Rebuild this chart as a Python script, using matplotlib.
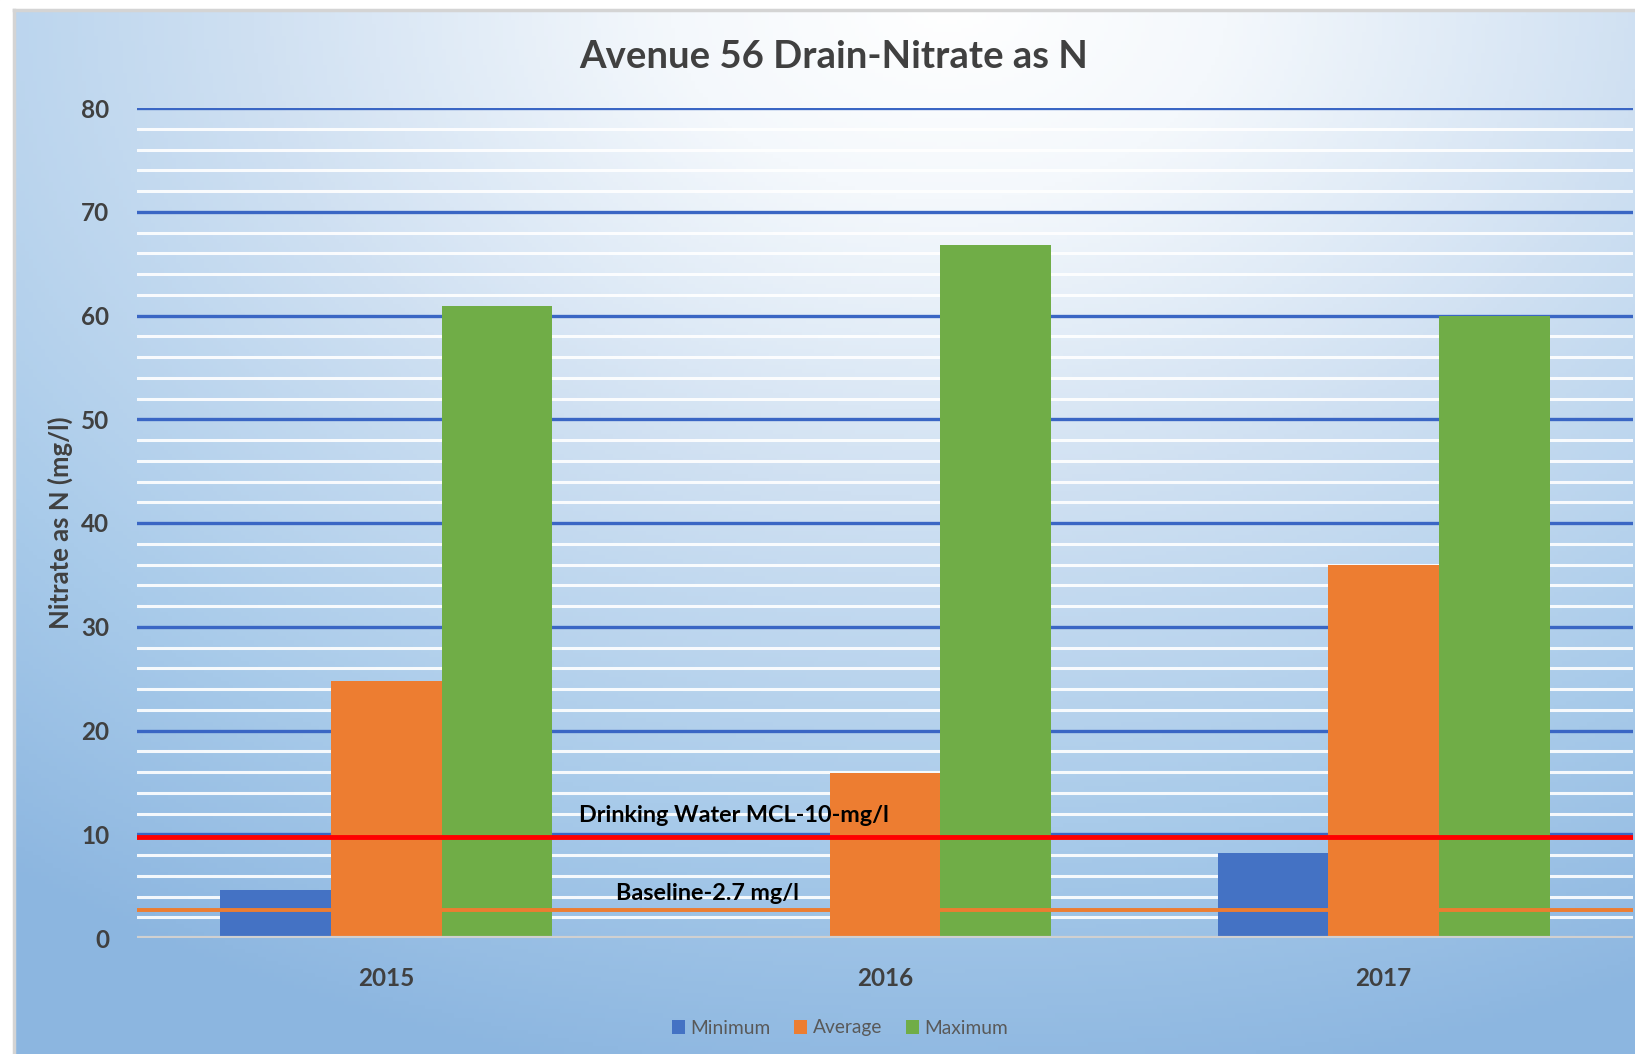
import numpy as np
import matplotlib
matplotlib.use("Agg")
import matplotlib.pyplot as plt
from matplotlib.colors import LinearSegmentedColormap
from matplotlib.patches import Rectangle

plt.rcParams['font.family'] = ['Lato', 'DejaVu Sans']

# ---------- data ----------
years = ['2015', '2016', '2017']
minimum = [4.6, 0.2, 8.2]
average = [24.8, 15.9, 36.0]
maximum = [60.9, 66.8, 60.0]
series_names = ['Minimum', 'Average', 'Maximum']
mcl_level = 9.7        # drinking water MCL line as drawn
baseline_level = 2.7   # baseline line
y_ticks = [0, 10, 20, 30, 40, 50, 60, 70, 80]

colors = ['#4472C4', '#ED7D31', '#70AD47']
W, H = 1635, 1054

fig = plt.figure(figsize=(W / 100, H / 100), dpi=100)

# background: white glow at the top, light blue towards the edges
bg = fig.add_axes([0, 0, 1, 1], zorder=-10)
bg.axis('off')
gx, gy = np.meshgrid(np.linspace(0, 1, 400), np.linspace(0, 1, 260))
d = np.sqrt(((gx - 0.58) / 0.95) ** 2 + ((gy - 0.0) / 1.05) ** 2)
cmap = LinearSegmentedColormap.from_list(
    'bg', [(0, '#ffffff'), (0.18, '#f4f8fc'), (0.45, '#cfe0f2'),
           (0.75, '#a9cbea'), (1.0, '#8cb6e0')])
bg.imshow(np.clip(d, 0, 1), cmap=cmap, vmin=0, vmax=1, aspect='auto',
          extent=[0, 1, 0, 1], origin='upper')
bg.set_xlim(0, 1)
bg.set_ylim(0, 1)
# white margin and grey frame at top / left
bg.add_patch(Rectangle((0, 0), 14 / W, 1, color='white', zorder=5))
bg.add_patch(Rectangle((0, 1 - 10 / H), 1, 10 / H, color='white', zorder=5))
bg.plot([14 / W, 14 / W], [0, 1 - 10 / H], color='#d4d4d4', lw=2.5, zorder=6)
bg.plot([14 / W, 1], [1 - 10 / H, 1 - 10 / H], color='#d4d4d4', lw=2.5, zorder=6)

# plot area
left, right, top, bottom = 137, 1633, 108, 938
ax = fig.add_axes([left / W, (H - bottom) / H, (right - left) / W, (bottom - top) / H])
ax.patch.set_alpha(0)

x = np.arange(len(years))
bw = 0.222
for i, (vals, name) in enumerate(zip([minimum, average, maximum], series_names)):
    ax.bar(x + (i - 1) * bw, vals, width=bw, color=colors[i], label=name, zorder=3)

ax.set_xlim(-0.5, 2.5)
ax.set_ylim(0, 80)
ax.set_yticks(y_ticks)
ax.set_yticks(np.arange(0, 81, 2), minor=True)
ax.grid(which='minor', axis='y', color='white', lw=2.2, alpha=0.9, zorder=1)
ax.grid(which='major', axis='y', color='#3a66c4', lw=2.4, zorder=2)
ax.set_axisbelow(True)
ax.axhline(0, color='#d0d0d0', lw=3, zorder=4)

for s in ax.spines.values():
    s.set_visible(False)

ax.set_xticks(x)
ax.set_xticklabels(years)
ax.tick_params(axis='both', which='both', length=0)
ax.tick_params(axis='y', pad=20, labelsize=17.5, labelcolor='#404040')
ax.tick_params(axis='x', pad=21, labelsize=17.5, labelcolor='#404040')
for lab in ax.get_xticklabels() + ax.get_yticklabels():
    lab.set_fontweight('bold')

fig.text(60 / W, 1 - 523 / H, 'Nitrate as N (mg/l)', rotation=90, ha='center',
         va='center', fontsize=18.5, color='#404040', fontweight='bold')

# reference lines
ax.axhline(mcl_level, color='#ff0000', lw=3.5, zorder=6)
ax.axhline(baseline_level, color='#ED7D31', lw=2.8, zorder=5)
ax.text(0.697, 11.8, 'Drinking Water MCL-10-mg/l', ha='center', va='center',
        fontsize=16.8, fontweight='bold', color='black', zorder=7)
ax.text(0.644, 4.3, 'Baseline-2.7 mg/l', ha='center', va='center',
        fontsize=16.8, fontweight='bold', color='black', zorder=7)

fig.suptitle('Avenue 56 Drain-Nitrate as N', x=834 / W, y=1 - 57 / H, va='center',
             fontsize=27.5, fontweight='bold', color='#404040')

handles, labels = ax.get_legend_handles_labels()
fig.legend(handles, labels, loc='center', bbox_to_anchor=(840 / W, 26 / H), ncol=3,
           frameon=False, fontsize=13.8, labelcolor='#595959', handlelength=0.7,
           handleheight=0.7, handletextpad=0.3, columnspacing=1.2)

fig.savefig('out.png', dpi=100)
